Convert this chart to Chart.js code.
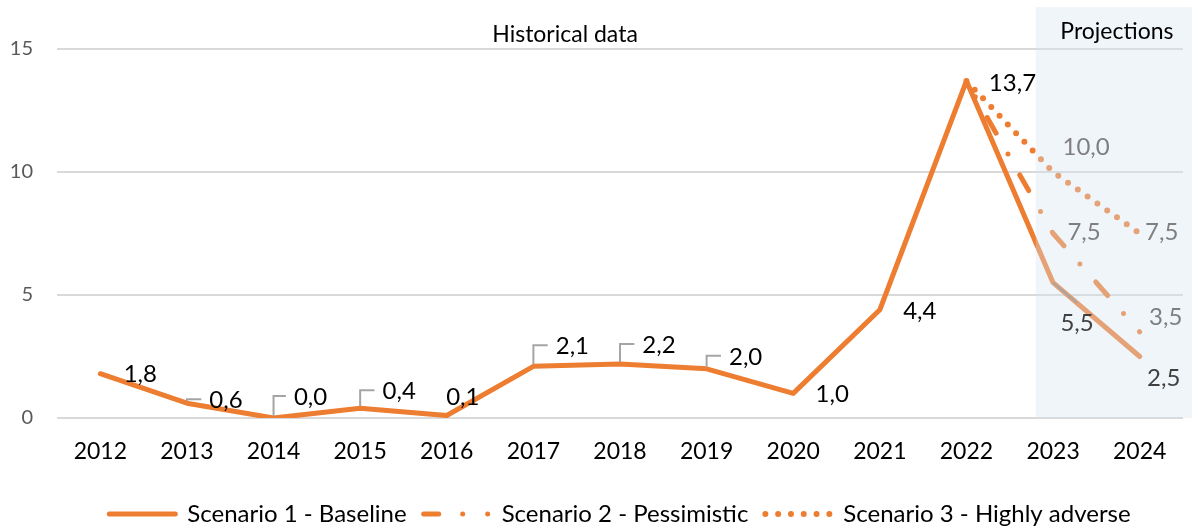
<!DOCTYPE html>
<html>
<head>
<meta charset="utf-8">
<script src="https://cdn.jsdelivr.net/npm/chart.js@4"></script>
<style>
  html, body { margin: 0; padding: 0; background: #fff; }
  #wrap { width: 1192px; height: 529px; }
</style>
</head>
<body>
<div id="wrap"><canvas id="chart"></canvas></div>
<script>
// values
const years = ['2012', '2013', '2014', '2015', '2016', '2017', '2018', '2019', '2020', '2021', '2022', '2023', '2024'];
const baseline = [1.8, 0.6, 0.0, 0.4, 0.1, 2.1, 2.2, 2.0, 1.0, 4.4, 13.7, 5.5, 2.5];
const pessimistic = [null, null, null, null, null, null, null, null, null, null, 13.7, 7.5, 3.5];
const adverse = [null, null, null, null, null, null, null, null, null, null, 13.7, 10.0, 7.5];
const seriesNames = ['Scenario 1 - Baseline', 'Scenario 2 - Pessimistic', 'Scenario 3 - Highly adverse'];
const sectionTitles = ['Historical data', 'Projections'];
const projectionStart = 11; // index of 2023

const orange = '#ED7D31';
const fontFamily = 'Lato, "Open Sans", sans-serif';

// legend samples use the long dash-dot-dot look of the original
const legendDashes = [[], [15, 24, 0, 25, 0, 25], [0, 12.8]];

// where each data label sits relative to its point: [dx, dy, leader]
const labelSpots = [
  {0: [40, 1], 1: [39, -3, 1], 2: [37, -21, 1], 3: [39, -17, 1], 4: [16, -18], 5: [39, -20, 1],
   6: [39, -19, 1], 7: [39, -12, 1], 8: [39, 1], 9: [40, 2], 10: [46, 2], 11: [24, 41, 2], 12: [24, 22]},
  {11: [31, -1], 12: [26, -15]},
  {11: [33, -25], 12: [22, -1]}
];

function fmt(v) {
  return v.toFixed(1).replace('.', ',');
}

// light band behind the projection years
const bandPlugin = {
  id: 'band',
  afterDatasetsDraw(chart) {
    const x = chart.scales.x;
    const step = x.getPixelForValue(1) - x.getPixelForValue(0);
    const left = x.getPixelForValue(projectionStart) - step * 0.2;
    const top = chart.chartArea.top - 42;
    const ctx = chart.ctx;
    ctx.save();
    ctx.fillStyle = 'rgba(214,226,241,0.36)';
    ctx.fillRect(left, top, chart.width - left, chart.chartArea.bottom - top);
    ctx.restore();
  }
};

// data labels, leader lines and the two section titles
const labelPlugin = {
  id: 'labels',
  afterDraw(chart) {
    const ctx = chart.ctx;
    const x = chart.scales.x;
    const area = chart.chartArea;
    ctx.save();
    ctx.font = '24px ' + fontFamily;
    ctx.textAlign = 'center';
    ctx.textBaseline = 'middle';

    chart.data.datasets.forEach((ds, d) => {
      const meta = chart.getDatasetMeta(d);
      const spots = labelSpots[d];
      Object.keys(spots).forEach(k => {
        const i = +k;
        const v = ds.data[i];
        const pt = meta.data[i];
        if (v == null || !pt) return;
        const [dx, dy, leader] = spots[k];
        const text = fmt(v);
        const lx = pt.x + dx;
        const ly = pt.y + dy;
        const w = ctx.measureText(text).width;
        ctx.strokeStyle = '#A5A5A5';
        ctx.lineWidth = 2;
        if (leader === 1) {
          ctx.beginPath();
          ctx.moveTo(pt.x, pt.y - 2);
          ctx.lineTo(pt.x, ly - 1);
          ctx.lineTo(lx - w / 2 - 8, ly - 1);
          ctx.stroke();
        } else if (leader === 2) {
          ctx.beginPath();
          ctx.moveTo(pt.x, pt.y);
          ctx.lineTo(lx, ly - 21);
          ctx.stroke();
        }
        let color = '#000';
        if (i >= projectionStart) color = d === 0 ? '#404040' : '#7F7F7F';
        ctx.fillStyle = color;
        ctx.fillText(text, lx, ly);
      });
    });

    ctx.font = '23px ' + fontFamily;
    ctx.fillStyle = '#000';
    ctx.fillText(sectionTitles[0], (area.left + x.getPixelForValue(projectionStart)) / 2 + 10, area.top - 14);
    const bandLeft = x.getPixelForValue(projectionStart) - (x.getPixelForValue(1) - x.getPixelForValue(0)) * 0.2;
    ctx.fillText(sectionTitles[1], (bandLeft + chart.width) / 2 + 3, area.top - 17);
    ctx.restore();
  }
};

new Chart(document.getElementById('chart'), {
  type: 'line',
  data: {
    labels: years,
    datasets: [
      {
        label: seriesNames[0],
        data: baseline,
        borderColor: orange,
        borderWidth: 5,
        borderCapStyle: 'round',
        borderJoinStyle: 'round',
        pointRadius: 0,
        tension: 0
      },
      {
        label: seriesNames[1],
        data: pessimistic,
        borderColor: orange,
        borderWidth: 5,
        borderDash: [18, 24, 0, 24],
        borderDashOffset: 24,
        borderCapStyle: 'round',
        pointRadius: 0,
        tension: 0
      },
      {
        label: seriesNames[2],
        data: adverse,
        borderColor: orange,
        borderWidth: 6,
        borderDash: [0, 12],
        borderCapStyle: 'round',
        pointRadius: 0,
        tension: 0
      }
    ]
  },
  options: {
    responsive: true,
    maintainAspectRatio: false,
    animation: false,
    layout: { padding: { top: 49, right: 9, bottom: -7, left: 0 } },
    scales: {
      x: {
        offset: true,
        grid: { display: false, drawTicks: false },
        border: { display: false },
        ticks: { color: '#000', font: { family: fontFamily, size: 23 }, padding: 20 },
        afterFit(scale) { scale.height = 67; }
      },
      y: {
        min: 0,
        max: 15,
        ticks: { stepSize: 5, color: '#595959', font: { family: fontFamily, size: 20 }, padding: 24 },
        grid: { color: '#D9D9D9', lineWidth: 2, drawTicks: false },
        border: { display: false },
        afterFit(scale) { scale.width = 57; }
      }
    },
    plugins: {
      tooltip: { enabled: false },
      legend: {
        position: 'bottom',
        fullSize: false, // centre it under the plot area
        labels: {
          usePointStyle: true,
          pointStyleWidth: 66,
          boxHeight: 24,
          padding: 17,
          color: '#000',
          font: { family: fontFamily, size: 24 },
          generateLabels(chart) {
            return chart.data.datasets.map((ds, i) => ({
              text: ds.label,
              strokeStyle: ds.borderColor,
              fillStyle: ds.borderColor,
              lineWidth: ds.borderWidth,
              lineDash: legendDashes[i],
              lineDashOffset: 0,
              lineCap: ds.borderCapStyle || 'butt',
              pointStyle: 'line',
              rotation: 0,
              datasetIndex: i,
              hidden: false
            }));
          }
        }
      }
    }
  },
  plugins: [bandPlugin, labelPlugin]
});
</script>
</body>
</html>
